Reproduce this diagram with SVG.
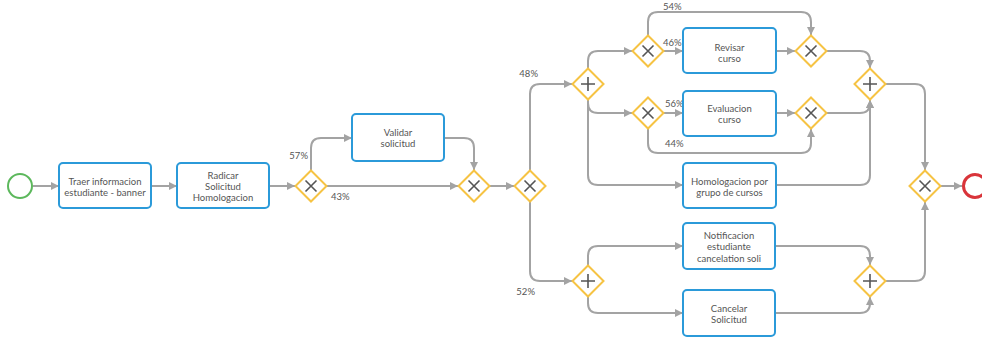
<svg xmlns="http://www.w3.org/2000/svg" width="982" height="340" viewBox="0 0 982 340">
  <defs>
    <style>
      .task rect { fill: #ffffff; stroke: #2b9ad9; stroke-width: 2; }
      .task text, .lbl { font-family: Lato, "Open Sans", "Liberation Sans", sans-serif; font-size: 9.5px; fill: #555555; }
      .task text { text-anchor: middle; }
      .gw .d { fill: #ffffff; stroke: #f6c343; stroke-width: 2; }
      .gw .m { stroke: #555555; stroke-width: 1.6; fill: none; }
      .flow path { fill: none; stroke: #a3a3a3; stroke-width: 2; marker-end: url(#arrow); }
    </style>
    <marker id="arrow" viewBox="0 0 10 10" refX="10" refY="5" markerWidth="9" markerHeight="8" markerUnits="userSpaceOnUse" orient="auto">
      <path d="M0 0 L10 5 L0 10 Z" fill="#a3a3a3"/>
    </marker>
    <path id="dia" d="M0 -15.5 L15.5 0 L0 15.5 L-15.5 0 Z"/>
    <path id="xmark" d="M-5.5 -5.5 L5.5 5.5 M5.5 -5.5 L-5.5 5.5"/>
    <path id="pmark" d="M-7 0 H7 M0 -7 V7"/>
  </defs>

  <rect width="982" height="340" fill="#ffffff"/>

  <!-- sequence flows -->
  <g id="connectors" class="flow">
    <path d="M33 186 H59"/>
    <path d="M151 186 H177"/>
    <path d="M269 186 H295"/>
    <path d="M311 170 V148 Q311 138 321 138 H352"/>
    <path d="M444 138 H464 Q474 138 474 148 V170"/>
    <path d="M327 186 H458"/>
    <path d="M490 186 H514"/>
    <path d="M530 170 V94 Q530 84 540 84 H572"/>
    <path d="M530 202 V271 Q530 281 540 281 H572"/>
    <path d="M588 68 V61 Q588 51 598 51 H632"/>
    <path d="M588 100 V103 Q588 113 598 113 H632"/>
    <path d="M588 100 V175 Q588 185 598 185 H683"/>
    <path d="M664 51 H683"/>
    <path d="M648 35 V22 Q648 12 658 12 H801 Q811 12 811 22 V35"/>
    <path d="M776 51 H795"/>
    <path d="M664 113 H683"/>
    <path d="M648 129 V143 Q648 153 658 153 H801 Q811 153 811 143 V129"/>
    <path d="M776 113 H795"/>
    <path d="M827 51 H860 Q870 51 870 61 V68"/>
    <path d="M827 113 H860 Q870 113 870 103 V100"/>
    <path d="M776 185 H860 Q870 185 870 175 V100"/>
    <path d="M886 84 H915 Q925 84 925 94 V170"/>
    <path d="M588 265 V256 Q588 246 598 246 H683"/>
    <path d="M588 297 V303 Q588 313 598 313 H683"/>
    <path d="M775 246 H860 Q870 246 870 256 V265"/>
    <path d="M775 313 H860 Q870 313 870 303 V297"/>
    <path d="M886 281 H915 Q925 281 925 271 V202"/>
    <path d="M941 186 H962"/>
  </g>

  <!-- flow labels -->
  <g id="flow-labels">
    <text class="lbl" x="308" y="159" text-anchor="end">57%</text>
    <text class="lbl" x="331" y="200">43%</text>
    <text class="lbl" x="538" y="77" text-anchor="end">48%</text>
    <text class="lbl" x="535" y="295" text-anchor="end">52%</text>
    <text class="lbl" x="663" y="10">54%</text>
    <text class="lbl" x="663" y="46">46%</text>
    <text class="lbl" x="665" y="107">56%</text>
    <text class="lbl" x="665" y="147">44%</text>
  </g>

  <!-- events -->
  <g id="start">
    <circle cx="20" cy="186" r="12" fill="#ffffff" stroke="#5cb85c" stroke-width="2"/>
  </g>
  <g id="end">
    <circle cx="975" cy="186" r="11.5" fill="#ffffff" stroke="#d9343a" stroke-width="3"/>
  </g>

  <!-- tasks -->
  <g id="traer" class="task">
    <rect x="59" y="163" width="92" height="45" rx="4"/>
    <text x="105" y="185">Traer informacion</text>
    <text x="105" y="196">estudiante - banner</text>
  </g>
  <g id="radicar" class="task">
    <rect x="177" y="163" width="92" height="45" rx="4"/>
    <text x="223" y="179">Radicar</text>
    <text x="223" y="190">Solicitud</text>
    <text x="223" y="201">Homologacion</text>
  </g>
  <g id="validar" class="task">
    <rect x="352" y="114" width="92" height="47" rx="4"/>
    <text x="398" y="136">Validar</text>
    <text x="398" y="147">solicitud</text>
  </g>
  <g id="revisar" class="task">
    <rect x="683" y="28" width="93" height="45" rx="4"/>
    <text x="729.5" y="51">Revisar</text>
    <text x="729.5" y="62">curso</text>
  </g>
  <g id="evaluacion" class="task">
    <rect x="683" y="91" width="93" height="45" rx="4"/>
    <text x="729.5" y="112">Evaluacion</text>
    <text x="729.5" y="123">curso</text>
  </g>
  <g id="homologacion" class="task">
    <rect x="683" y="163" width="93" height="45" rx="4"/>
    <text x="729.5" y="185">Homologacion por</text>
    <text x="729.5" y="196">grupo de cursos</text>
  </g>
  <g id="notificacion" class="task">
    <rect x="683" y="223" width="92" height="46" rx="4"/>
    <text x="729" y="239">Notificacion</text>
    <text x="729" y="250">estudiante</text>
    <text x="729" y="262">cancelation soli</text>
  </g>
  <g id="cancelar" class="task">
    <rect x="683" y="290" width="92" height="46" rx="4"/>
    <text x="729" y="312">Cancelar</text>
    <text x="729" y="323">Solicitud</text>
  </g>

  <!-- gateways -->
  <g id="gw-validacion" class="gw" transform="translate(311 186)"><use href="#dia" class="d"/><use href="#xmark" class="m"/></g>
  <g id="gw-merge-validacion" class="gw" transform="translate(474 186)"><use href="#dia" class="d"/><use href="#xmark" class="m"/></g>
  <g id="gw-decision" class="gw" transform="translate(530 186)"><use href="#dia" class="d"/><use href="#xmark" class="m"/></g>
  <g id="par-split-top" class="gw" transform="translate(588 84)"><use href="#dia" class="d"/><use href="#pmark" class="m"/></g>
  <g id="gw-revisar" class="gw" transform="translate(648 51)"><use href="#dia" class="d"/><use href="#xmark" class="m"/></g>
  <g id="gw-evaluacion" class="gw" transform="translate(648 113)"><use href="#dia" class="d"/><use href="#xmark" class="m"/></g>
  <g id="gw-revisar-join" class="gw" transform="translate(811 51)"><use href="#dia" class="d"/><use href="#xmark" class="m"/></g>
  <g id="gw-evaluacion-join" class="gw" transform="translate(811 113)"><use href="#dia" class="d"/><use href="#xmark" class="m"/></g>
  <g id="par-join-top" class="gw" transform="translate(870 84)"><use href="#dia" class="d"/><use href="#pmark" class="m"/></g>
  <g id="par-split-bottom" class="gw" transform="translate(588 281)"><use href="#dia" class="d"/><use href="#pmark" class="m"/></g>
  <g id="par-join-bottom" class="gw" transform="translate(870 281)"><use href="#dia" class="d"/><use href="#pmark" class="m"/></g>
  <g id="gw-final" class="gw" transform="translate(925 186)"><use href="#dia" class="d"/><use href="#xmark" class="m"/></g>
</svg>
